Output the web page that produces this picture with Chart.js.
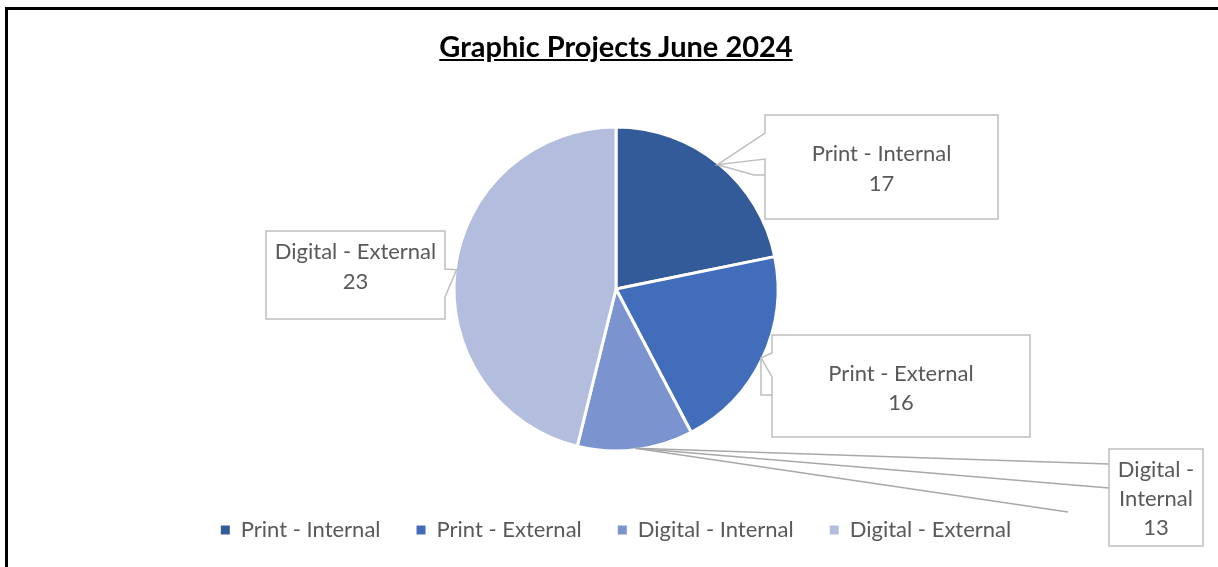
<!DOCTYPE html>
<html lang="en">
<head>
<meta charset="UTF-8">
<title>Graphic Projects June 2024</title>
<script src="https://cdn.jsdelivr.net/npm/chart.js"></script>
<style>
    html, body {
        margin: 0;
        padding: 0;
        background: #ffffff;
        overflow: hidden;
    }

    body {
        width: 1218px;
        height: 567px;
        position: relative;
        font-family: 'Lato', sans-serif;
    }

    .frame {
        position: absolute;
        left: 5px;
        top: 7px;
        width: 1400px;
        height: 800px;
        border: 3px solid #000;
        box-sizing: border-box;
    }

    #chartTitle {
        position: absolute;
        left: 0;
        width: 1232px;
        top: 29px;
        margin: 0;
        text-align: center;
        font: bold 29px/34.8px 'Lato', sans-serif;
        color: #000;
        text-decoration: underline;
    }

    canvas {
        position: absolute;
        left: 0;
        top: 0;
    }
</style>
</head>
<body>
<div class="frame"></div>
<canvas id="projectsChart" width="1218" height="567"></canvas>
<h1 id="chartTitle">Graphic Projects June 2024</h1>

<script>
    const categories = ['Print - Internal', 'Print - External', 'Digital - Internal', 'Digital - External'];
    // slice sizes as drawn in the picture (angles), and the numbers printed in the callouts
    const sliceValues = [17, 16, 9, 36];
    const calloutValues = [17, 16, 13, 23];
    const sliceColors = ['#335A99', '#416DBB', '#7B93CF', '#B3BEDE'];

    // callout boxes, placed relative to the pie centre
    const calloutLayout = [
        { dx: 149, dy: -174, w: 233, h: 104, side: 'left', n1: 18, n2: 44, extra: [[-11, 60], [0, 60]], text: [38.5, 68.5] },
        { dx: 156, dy: 46, w: 258, h: 102, side: 'left', n1: 18, n2: 42, extra: [[-11, 60], [0, 60]], text: [38, 67] },
        { dx: 493, dy: 160, w: 94, h: 97, wrap: true, leaders: [[0, 15], [0, 39], [-41, 63]], text: [20, 49, 78.5] },
        { dx: -350, dy: -58, w: 179, h: 88, side: 'right', n1: 38, n2: 66, text: [20, 50] }
    ];

    const fontSize = 22;

    const calloutPlugin = {
        id: 'callouts',
        afterDatasetsDraw(chart) {
            const ctx = chart.ctx;
            const meta = chart.getDatasetMeta(0);
            ctx.save();
            meta.data.forEach((arc, i) => {
                const p = arc.getProps(['x', 'y', 'startAngle', 'endAngle', 'outerRadius'], true);
                const mid = (p.startAngle + p.endAngle) / 2;
                const r = p.outerRadius - 1.5;
                const tx = p.x + Math.cos(mid) * r;
                const ty = p.y + Math.sin(mid) * r;
                const c = calloutLayout[i];
                const bx = p.x + c.dx;
                const by = p.y + c.dy;

                // leader lines
                if (c.leaders) {
                    ctx.strokeStyle = '#A8A8A8';
                    ctx.lineWidth = 1.5;
                    c.leaders.forEach(pt => {
                        ctx.beginPath();
                        ctx.moveTo(tx, ty);
                        ctx.lineTo(bx + pt[0], by + pt[1]);
                        ctx.stroke();
                    });
                }

                // box with pointer
                ctx.beginPath();
                if (c.side === 'left') {
                    ctx.moveTo(bx, by);
                    ctx.lineTo(bx + c.w, by);
                    ctx.lineTo(bx + c.w, by + c.h);
                    ctx.lineTo(bx, by + c.h);
                    ctx.lineTo(bx, by + c.n2);
                    ctx.lineTo(tx, ty);
                    ctx.lineTo(bx, by + c.n1);
                } else if (c.side === 'right') {
                    ctx.moveTo(bx, by);
                    ctx.lineTo(bx + c.w, by);
                    ctx.lineTo(bx + c.w, by + c.n1);
                    ctx.lineTo(tx, ty);
                    ctx.lineTo(bx + c.w, by + c.n2);
                    ctx.lineTo(bx + c.w, by + c.h);
                    ctx.lineTo(bx, by + c.h);
                } else {
                    ctx.rect(bx, by, c.w, c.h);
                }
                ctx.closePath();
                ctx.fillStyle = '#ffffff';
                ctx.fill();
                ctx.strokeStyle = '#BFBFBF';
                ctx.lineWidth = 1.5;
                ctx.stroke();

                if (c.extra) {
                    ctx.beginPath();
                    ctx.moveTo(tx, ty);
                    c.extra.forEach(pt => ctx.lineTo(bx + pt[0], by + pt[1]));
                    ctx.stroke();
                }

                // text
                const name = categories[i];
                const parts = c.wrap ? [name.split(' - ')[0] + ' -', name.split(' - ')[1]] : [name];
                const lines = parts.concat(String(calloutValues[i]));
                ctx.font = fontSize + "px 'Lato'";
                ctx.fillStyle = '#595959';
                ctx.textAlign = 'center';
                ctx.textBaseline = 'alphabetic';
                const capHalf = fontSize * 0.7165 / 2;
                lines.forEach((line, k) => {
                    ctx.fillText(line, bx + c.w / 2, by + c.text[k] + capHalf);
                });
            });
            ctx.restore();
        }
    };

    const chart = new Chart(document.getElementById('projectsChart'), {
        type: 'pie',
        data: {
            labels: categories,
            datasets: [{
                data: sliceValues,
                backgroundColor: sliceColors,
                borderColor: '#ffffff',
                borderWidth: 3,
                radius: 162,
                hoverOffset: 0
            }]
        },
        options: {
            responsive: false,
            animation: false,
            layout: {
                padding: { left: 14, right: 0, top: 95, bottom: 16 }
            },
            plugins: {
                title: { display: false },
                tooltip: { enabled: false },
                legend: {
                    position: 'bottom',
                    labels: {
                        boxWidth: 9,
                        boxHeight: 9,
                        padding: 36,
                        color: '#595959',
                        font: { family: 'Lato', size: fontSize },
                        generateLabels(chart) {
                            const items = Chart.overrides.doughnut.plugins.legend.labels.generateLabels(chart);
                            items.forEach(item => { item.lineWidth = 0; });
                            return items;
                        }
                    }
                }
            }
        },
        plugins: [calloutPlugin]
    });
</script>
</body>
</html>
